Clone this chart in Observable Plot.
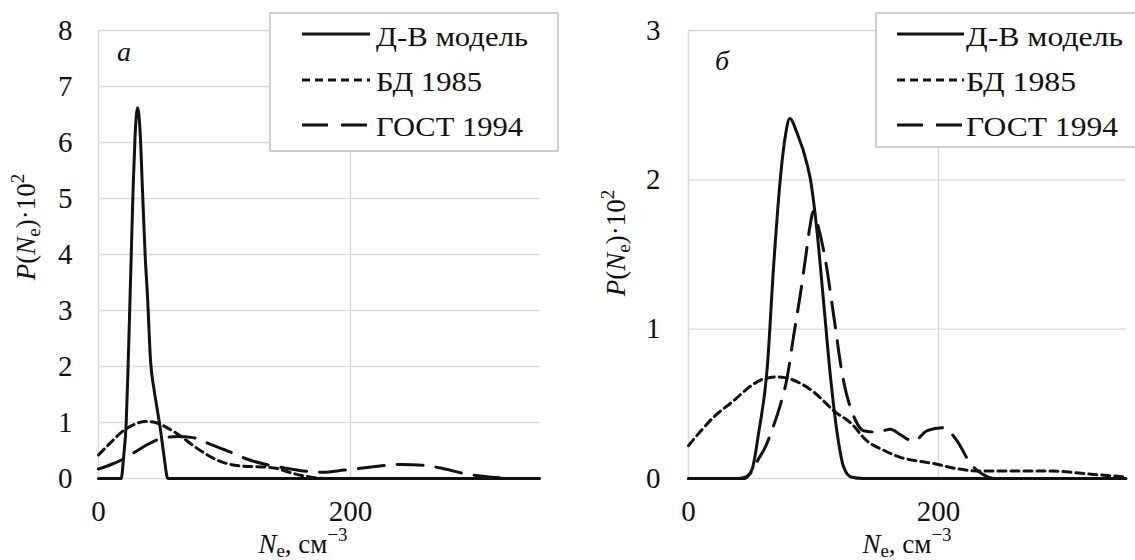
<!DOCTYPE html>
<html><head><meta charset="utf-8">
<script src="https://cdn.jsdelivr.net/npm/d3@7"></script>
<script src="https://cdn.jsdelivr.net/npm/@observablehq/plot@0.6"></script>
<style>
body{margin:0;background:#fff;}
#wrap{position:relative;width:1135px;height:560px;overflow:hidden;background:#fff;}
#left{position:absolute;left:0;top:0;}
#right{position:absolute;left:560px;top:0;}
</style></head><body><div id="wrap"><div id="left"></div><div id="right"></div></div>
<script>
// ---- data ----
const seriesNames = ["Д-В модель", "БД 1985", "ГОСТ 1994"];
const panelLetters = ["а", "б"];
const xTicks = [0, 200];
const yTicksA = [0, 1, 2, 3, 4, 5, 6, 7, 8];
const yTicksB = [0, 1, 2, 3];

// panel a
const aDV_x = [0, 10, 18, 20, 22, 23.5, 25, 26, 27.5, 29, 31, 33, 35, 37, 39, 41.3, 44, 46.5, 49, 52, 55, 100, 200, 350];
const aDV_y = [0, 0, 0, 0.4, 1, 2, 3.2, 4, 5.2, 6.1, 6.62, 6.2, 5.1, 4, 3.2, 2.1, 1.6, 1.25, 0.9, 0.4, 0, 0, 0, 0];
const aBD_x = [0, 10, 20, 30, 37, 45, 55, 65, 75, 85, 95, 105, 115, 125, 135, 142, 150, 160, 170, 180, 250, 350];
const aBD_y = [0.42, 0.65, 0.86, 0.98, 1.02, 1.0, 0.9, 0.76, 0.59, 0.44, 0.32, 0.25, 0.22, 0.21, 0.2, 0.18, 0.12, 0.06, 0.02, 0, 0, 0];
const aGOST_x = [0, 10, 19, 28, 40, 49, 63, 75, 90, 105, 120, 135, 150, 165, 178, 195, 215, 240, 260, 275, 290, 305, 320, 335, 350];
const aGOST_y = [0.17, 0.25, 0.34, 0.46, 0.62, 0.71, 0.75, 0.73, 0.6, 0.47, 0.33, 0.24, 0.18, 0.13, 0.11, 0.15, 0.2, 0.25, 0.23, 0.17, 0.09, 0.04, 0.01, 0, 0];

// panel б
const bDV_x = [0, 40, 46, 51, 56, 63, 68, 73.6, 77.6, 81, 87, 95, 97.6, 103, 108, 113.6, 119, 124, 130, 140, 350];
const bDV_y = [0, 0, 0.01, 0.065, 0.3, 0.74, 1.41, 2.02, 2.3, 2.41, 2.31, 2.1, 2.0, 1.64, 1.19, 0.68, 0.3, 0.08, 0.01, 0, 0];
const bBD_x = [0, 10, 20, 36, 50, 60, 71, 80, 90, 100, 108, 116, 130, 143, 156, 170, 185, 196, 215, 234, 260, 290, 320, 350];
const bBD_y = [0.22, 0.32, 0.41, 0.52, 0.62, 0.667, 0.68, 0.67, 0.635, 0.58, 0.52, 0.455, 0.37, 0.25, 0.19, 0.14, 0.115, 0.1, 0.065, 0.05, 0.05, 0.05, 0.03, 0.01];
const bGOST_x = [0, 45, 50, 56, 62, 67, 73, 79, 84, 89.6, 94, 97, 100, 104, 109.6, 116, 123, 133.6, 140, 151, 161.6, 170, 180, 191, 204, 208, 215, 225.6, 235, 245, 350];
const bGOST_y = [0, 0, 0.04, 0.13, 0.22, 0.33, 0.48, 0.68, 0.95, 1.24, 1.5, 1.68, 1.79, 1.68, 1.46, 1.10, 0.70, 0.39, 0.32, 0.31, 0.33, 0.29, 0.25, 0.32, 0.34, 0.32, 0.25, 0.10, 0.03, 0, 0];

const toRows = (xs, ys) => xs.map((x, i) => ({x, y: ys[i]}));
const dashes = [null, "8,5", "26,13"];
const FONT = "Liberation Serif";
const INK = "#111";

function makePanel(o) {
  const svg = Plot.plot({
    width: o.width, height: 560,
    marginLeft: o.ml, marginRight: o.mr, marginTop: 30, marginBottom: 82,
    x: {domain: [0, 350]},
    y: {domain: o.ydomain},
    style: {fontFamily: FONT, fontSize: "29px", color: INK, background: "transparent", overflow: "visible"},
    marks: [
      Plot.gridY({ticks: o.yticks, stroke: "#d9d9d9", strokeOpacity: 1, strokeWidth: 1.4}),
      Plot.gridX({ticks: xTicks, stroke: "#d9d9d9", strokeOpacity: 1, strokeWidth: 1.4}),
      Plot.line(toRows(o.series[2][0], o.series[2][1]), {x: "x", y: "y", stroke: INK, strokeWidth: 3, strokeDasharray: dashes[2], curve: "monotone-x"}),
      Plot.line(toRows(o.series[1][0], o.series[1][1]), {x: "x", y: "y", stroke: INK, strokeWidth: 3, strokeDasharray: dashes[1], curve: "monotone-x"}),
      Plot.line(toRows(o.series[0][0], o.series[0][1]), {x: "x", y: "y", stroke: INK, strokeWidth: 3, curve: "monotone-x"}),
      Plot.axisY({ticks: o.yticks, tickSize: 0, tickPadding: o.tp, label: null, tickFormat: d3.format("d"), fontSize: 29, fontFamily: FONT, fill: INK}),
      Plot.axisX({ticks: xTicks, tickSize: 0, tickPadding: 22, label: null, tickFormat: d3.format("d"), fontSize: 29, fontFamily: FONT, fill: INK})
    ]
  });
  const s = d3.select(svg);
  // legend
  const g = s.append("g").attr("text-anchor", "start").attr("font-family", FONT);
  g.append("rect").attr("x", o.lx).attr("y", 13).attr("width", o.lw).attr("height", o.lh)
    .attr("fill", "#fff").attr("stroke", "#bfbfbf").attr("stroke-width", 1.5);
  const lineY = [34, 80, 125], textY = [46, 91, 136];
  seriesNames.forEach((name, i) => {
    const ln = g.append("line").attr("x1", o.l1).attr("x2", o.l2).attr("y1", lineY[i]).attr("y2", lineY[i])
      .attr("stroke", INK).attr("stroke-width", 3);
    if (dashes[i]) ln.attr("stroke-dasharray", dashes[i]);
    g.append("text").attr("x", o.tx).attr("y", textY[i]).attr("text-anchor", "start").attr("font-family", FONT).attr("font-size", 28)
      .attr("fill", INK).attr("textLength", o.tl[i]).attr("lengthAdjust", "spacingAndGlyphs").text(name);
  });
  // panel letter
  s.append("text").attr("x", o.px).attr("y", o.py).attr("text-anchor", "start").attr("font-family", FONT).attr("font-size", 28)
    .attr("font-style", "italic").attr("fill", INK).text(o.letter);
  // y label
  const yl = s.append("text").attr("transform", `translate(${o.ylx},${o.yly}) rotate(-90)`)
    .attr("text-anchor", "middle").attr("font-family", FONT).attr("font-size", 27).attr("fill", INK);
  yl.append("tspan").attr("font-style", "italic").text("P");
  yl.append("tspan").text("(");
  yl.append("tspan").attr("font-style", "italic").text("N");
  yl.append("tspan").attr("font-size", 19).attr("dy", 5).text("e");
  yl.append("tspan").attr("dy", -5).text(")·10");
  yl.append("tspan").attr("font-size", 19).attr("dy", -11).text("2");
  // x label
  const xl = s.append("text").attr("x", o.xlx).attr("y", 553).attr("text-anchor", "middle")
    .attr("font-family", FONT).attr("font-size", 27).attr("fill", INK);
  xl.append("tspan").attr("font-style", "italic").text("N");
  xl.append("tspan").attr("font-size", 19).attr("dy", 4).text("e");
  xl.append("tspan").attr("dy", -4).text(", см");
  xl.append("tspan").attr("font-size", 19).attr("dy", -12).text("−3");
  return svg;
}

document.getElementById("left").appendChild(makePanel({
  width: 560, ml: 98, mr: 21, ydomain: [0, 8], yticks: yTicksA, tp: 26,
  series: [[aDV_x, aDV_y], [aBD_x, aBD_y], [aGOST_x, aGOST_y]],
  lx: 270, lw: 288, lh: 138, l1: 302, l2: 370, tx: 376, tl: [152, 106, 147],
  px: 117, py: 61, letter: panelLetters[0], ylx: 35, yly: 227, xlx: 303
}));
document.getElementById("right").appendChild(makePanel({
  width: 575, ml: 128, mr: 9.5, ydomain: [0, 3], yticks: yTicksB, tp: 28,
  series: [[bDV_x, bDV_y], [bBD_x, bBD_y], [bGOST_x, bGOST_y]],
  lx: 316, lw: 300, lh: 134, l1: 337, l2: 404, tx: 406, tl: [157, 110, 152],
  px: 155, py: 70, letter: panelLetters[1], ylx: 65, yly: 243, xlx: 347
}));
</script></body></html>
